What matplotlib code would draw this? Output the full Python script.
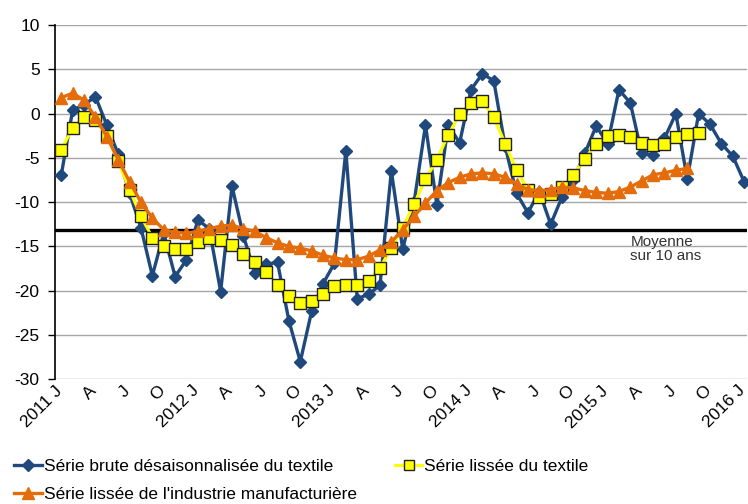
import numpy as np
import matplotlib
matplotlib.use('Agg')
import matplotlib.pyplot as plt
import matplotlib.transforms as mtransforms
from matplotlib.lines import Line2D

plt.rcParams['font.family'] = ['Liberation Sans Narrow', 'Liberation Sans', 'DejaVu Sans']
plt.rcParams['axes.unicode_minus'] = False

# months from 2011 J to 2016 J
tick_labels = []
for year in range(2011, 2016):
    tick_labels += [f'{year} J', 'A', 'J', 'O']
tick_labels.append('2016 J')

brute_textile = [-6.9, 0.4, 1.0, 1.9, -1.3, -4.6, -9.0, -12.9, -18.3, -13.5,
                 -18.4, -16.5, -12.0, -13.0, -20.1, -8.2, -13.8, -18.0, -17.0, -16.8,
                 -23.4, -28.0, -22.3, -19.2, -16.9, -4.2, -20.9, -20.4, -19.4, -6.5,
                 -15.3, -10.0, -1.3, -10.3, -1.3, -3.3, 2.7, 4.5, 3.7, -3.7,
                 -9.0, -11.2, -8.8, -12.5, -9.4, -7.5, -4.5, -1.4, -3.4, 2.7,
                 1.2, -4.5, -4.7, -2.8, 0.0, -7.4, 0.0, -1.2, -3.4, -4.8,
                 -7.7]

lissee_textile = [-4.1, -1.6, -0.4, -0.7, -2.5, -5.4, -8.6, -11.6, -14.0, -14.9,
                  -15.3, -15.3, -14.5, -14.1, -14.3, -14.8, -15.8, -16.8, -17.9, -19.3,
                  -20.6, -21.4, -21.2, -20.4, -19.5, -19.3, -19.4, -18.9, -17.4, -15.2,
                  -12.9, -10.2, -7.4, -5.2, -2.4, -0.1, 1.2, 1.4, -0.4, -3.4,
                  -6.4, -8.6, -9.4, -9.1, -8.3, -6.9, -5.1, -3.4, -2.5, -2.4,
                  -2.6, -3.3, -3.6, -3.4, -2.7, -2.3, -2.2]

lissee_industrie = [1.8, 2.3, 1.5, -0.4, -2.6, -5.2, -7.7, -10.0, -11.8, -13.1,
                    -13.4, -13.5, -13.3, -13.0, -12.7, -12.6, -13.0, -13.3, -14.0, -14.6,
                    -15.0, -15.2, -15.5, -16.0, -16.3, -16.5, -16.5, -16.1, -15.4, -14.5,
                    -13.1, -11.6, -10.1, -8.7, -7.8, -7.2, -6.8, -6.7, -6.8, -7.2,
                    -7.9, -8.6, -8.7, -8.6, -8.3, -8.4, -8.7, -8.9, -9.0, -8.8,
                    -8.3, -7.6, -6.9, -6.7, -6.4, -6.2]

moyenne_10_ans = -13.2

colors = {
    'blue': '#1F497D',
    'yellow': '#FFFF00',
    'orange': '#E46C0A',
    'grid': '#A6A6A6',
}

fig = plt.figure(figsize=(7.48, 5.04), dpi=100)
ax = fig.add_axes([55 / 748, 1 - 379.3 / 504, 692 / 748, 354.3 / 504])

for y in range(-30, 11, 5):
    ax.axhline(y, color=colors['grid'], linewidth=1.0, zorder=0)

ax.axhline(moyenne_10_ans, color='black', linewidth=2.4, zorder=1)

ax.plot(np.arange(len(brute_textile)), brute_textile, color=colors['blue'],
        linewidth=2.4, marker='D', markersize=6, zorder=3, clip_on=False)
ax.plot(np.arange(len(lissee_textile)), lissee_textile, color=colors['yellow'],
        linewidth=2.2, marker='s', markersize=9, markerfacecolor=colors['yellow'],
        markeredgecolor='#202020', markeredgewidth=1.0, zorder=4)
ax.plot(np.arange(len(lissee_industrie)), lissee_industrie, color=colors['orange'],
        linewidth=2.4, marker='^', markersize=8, zorder=5)

# annotation under the 10-year average line
ax.text(50.0, moyenne_10_ans - 0.5, 'Moyenne\nsur 10 ans', fontsize=11, va='top', ha='left',
        color='#333333', linespacing=1.05)

ax.set_xlim(-0.554, 60.25)
ax.set_ylim(-30, 10)
ax.set_yticks(range(-30, 11, 5))
ax.tick_params(axis='y', labelsize=12.5, length=5, width=1, direction='out', pad=6)

ax.set_xticks(range(0, 61, 3))
ax.set_xticklabels(tick_labels, rotation=45, ha='right', va='top',
                   rotation_mode='anchor', fontsize=12.5)
ax.tick_params(axis='x', length=0, pad=2)
shift = mtransforms.ScaledTranslation(-7 / 100, -1 / 100, fig.dpi_scale_trans)
for lbl in ax.get_xticklabels():
    lbl.set_transform(lbl.get_transform() + shift)

for side in ['top', 'right', 'bottom']:
    ax.spines[side].set_visible(False)
ax.spines['left'].set_linewidth(1.2)

handles = [
    Line2D([], [], color=colors['blue'], linewidth=2.4, marker='D', markersize=6),
    Line2D([], [], color=colors['orange'], linewidth=2.4, marker='^', markersize=8),
    Line2D([], [], color=colors['yellow'], linewidth=2.2, marker='s', markersize=7,
           markeredgecolor='#202020', markeredgewidth=1.0),
]
labels = ['Série brute désaisonnalisée du textile',
          "Série lissée de l'industrie manufacturière",
          'Série lissée du textile']
fig.legend(handles, labels, ncol=2, loc='upper left', bbox_to_anchor=(14 / 748, 1 - 459 / 504),
           frameon=False, fontsize=12.5, handlelength=1.6, handletextpad=0.1,
           columnspacing=2.2, labelspacing=0.75, borderpad=0, borderaxespad=0)

fig.savefig('out.png', dpi=100)
